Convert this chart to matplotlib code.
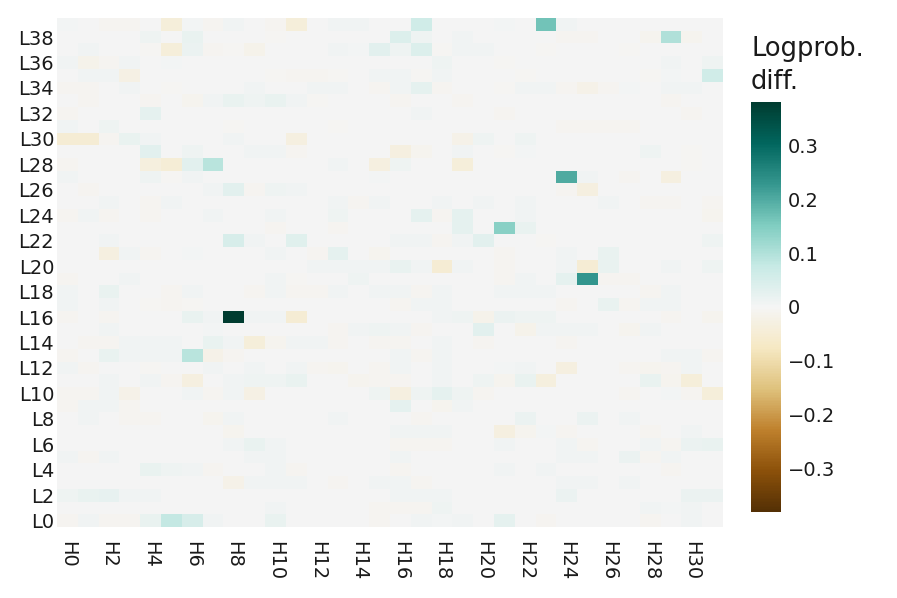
import matplotlib
matplotlib.use("Agg")
import matplotlib.pyplot as plt
import numpy as np

layers = [f"L{i}" for i in range(40)]
heads = [f"H{i}" for i in range(32)]
vmin, vmax = -0.38, 0.38
cbar_ticks = [-0.3, -0.2, -0.1, 0, 0.1, 0.2, 0.3]
cbar_title = "Logprob.\ndiff."

# rows L0 .. L39, columns H0 .. H31
values = [
    [-.008,.006,-.008,-.006,.02,.08,.05,.008,0,0,.02,0,0,0,0,-.006,0,.008,.004,.008,0,.025,0,-.006,0,0,0,0,-.006,0,.008,0],
    [0,0,0,0,0,0,0,0,0,0,.006,0,0,0,0,-.006,-.006,-.008,.01,0,0,0,0,0,0,0,0,0,.006,.004,.006,0],
    [.01,.02,.022,.008,.008,0,0,0,0,0,0,0,0,0,0,0,.008,.008,.008,0,0,0,0,0,.015,0,0,0,0,0,.015,.015],
    [0,0,0,0,0,0,0,0,-.02,.006,.006,.006,0,-.006,0,.006,.008,-.006,0,0,0,0,0,0,.008,.008,0,.008,0,0,0,0],
    [0,0,0,0,.02,.01,.008,-.006,0,0,.006,-.006,0,0,0,0,-.006,0,0,0,0,.008,0,.008,0,0,0,0,0,-.006,0,0],
    [.006,-.006,.006,0,0,0,0,0,0,.006,.006,0,0,0,0,0,.006,0,0,0,0,0,0,0,.008,.008,0,.015,-.006,.008,0,0],
    [0,0,0,0,0,0,0,0,.008,.02,.008,0,0,0,0,0,-.006,-.006,-.006,0,0,.008,0,0,.008,-.006,0,0,.008,-.006,.015,.02],
    [0,0,0,0,0,0,0,0,-.01,0,0,0,0,0,0,0,.006,.006,.008,0,0,-.03,-.01,.004,-.006,0,0,0,-.008,0,.006,0],
    [0,.006,0,-.008,-.006,0,0,-.01,.006,0,0,0,0,.006,0,0,0,-.006,0,0,0,0,.015,0,0,.015,0,.008,0,0,0,0],
    [-.008,.006,.006,-.006,0,0,0,0,0,0,0,0,0,0,0,0,.025,0,-.01,.006,0,0,0,0,0,0,0,0,0,0,0,0],
    [-.008,-.006,.008,-.02,0,0,.008,-.008,.008,-.025,0,0,0,0,0,.01,-.03,.01,.025,.01,-.006,0,0,0,0,0,0,-.006,0,.004,-.006,-.04],
    [0,0,.008,0,.008,-.006,-.03,0,.008,.01,.01,.02,0,0,-.01,-.008,-.006,0,.008,0,.01,-.01,.02,-.035,0,0,0,0,.02,-.01,-.04,0],
    [.006,-.008,0,0,-.005,0,0,.006,0,.008,0,.008,-.008,-.01,0,-.008,.008,0,.008,0,0,.004,.006,0,-.03,0,0,-.006,-.01,-.006,.008,0],
    [-.006,0,.02,.008,.008,.008,.09,-.02,-.006,0,0,0,0,0,0,0,.006,-.006,.006,0,0,0,0,0,0,0,0,0,0,.008,.008,-.008],
    [0,-.008,-.008,.008,.008,.008,0,.02,.008,-.04,-.01,.006,.006,-.008,0,-.008,-.006,0,.008,0,-.006,0,0,0,-.006,0,0,0,0,0,0,0],
    [0,0,.006,0,0,0,0,.005,0,0,0,0,0,-.006,.008,.01,.006,-.006,0,0,.03,0,-.015,.008,.008,.008,0,-.01,.008,0,0,0],
    [-.006,0,-.006,0,0,0,.02,.008,.38,.008,.006,-.05,0,0,0,0,0,0,.006,.01,-.015,.015,.01,.01,0,0,0,0,0,-.008,0,-.01],
    [.006,0,.006,0,-.005,-.008,-.005,0,0,0,0,0,0,0,0,0,-.006,.006,.006,0,0,0,0,0,-.006,0,.02,-.006,.008,.008,0,0],
    [.006,0,.02,0,0,-.006,.006,0,0,-.006,.008,-.006,-.008,.006,0,.008,.008,-.006,.006,0,0,.006,.008,.008,0,0,0,0,-.008,.008,0,0],
    [-.006,0,0,.008,0,0,0,0,0,0,.008,-.005,0,0,.01,0,0,0,0,0,0,-.008,.006,0,.025,.23,-.006,-.006,0,0,0,0],
    [0,0,0,0,0,0,0,0,0,0,0,0,.008,.008,.008,.006,.02,.008,-.05,.008,0,-.008,0,0,.006,-.05,.02,0,0,.008,0,.01],
    [0,0,-.03,.008,-.006,0,.004,0,0,0,.008,0,-.008,.025,0,-.01,0,0,0,0,0,-.008,0,0,.008,0,.02,0,0,0,0,0],
    [0,0,.008,0,0,0,0,0,.05,.006,0,.035,0,0,0,0,.008,.008,-.006,.008,.03,0,0,-.005,0,0,0,0,0,0,0,.01],
    [0,0,0,0,0,0,0,0,0,0,-.008,0,0,-.008,0,0,0,0,0,.025,0,.14,.02,0,0,0,0,0,0,0,0,0],
    [-.006,.008,-.006,0,-.006,0,0,.006,0,0,.008,0,0,.01,0,0,0,.025,-.008,.025,0,0,.006,0,0,0,0,0,0,0,0,-.01],
    [0,0,.008,0,-.006,.006,0,0,0,0,0,0,0,.008,-.006,.008,0,0,.006,0,.006,0,.006,0,0,0,.006,0,-.008,-.008,0,-.008],
    [0,-.006,0,0,0,0,0,.008,.03,-.008,.01,.008,0,0,0,0,0,0,0,0,0,0,0,0,-.008,-.03,0,0,0,0,0,0],
    [.006,0,0,0,.01,-.005,.008,0,0,0,0,0,0,0,0,.004,0,0,0,0,0,0,0,0,.2,.008,0,-.008,0,-.03,0,0],
    [-.006,0,0,0,-.035,-.045,.03,.09,0,0,0,0,0,.008,0,-.03,.01,0,0,-.04,0,0,0,0,0,0,0,0,0,0,-.005,0],
    [0,0,0,0,.03,0,.01,0,0,.008,.008,-.008,0,0,0,0,-.03,-.01,0,.008,0,-.004,.004,0,0,0,0,0,.01,0,-.004,0],
    [-.05,-.05,-.008,.02,.008,0,0,0,.006,0,0,-.03,0,0,0,0,0,0,0,-.02,.01,0,.01,0,0,0,0,0,0,0,0,0],
    [.006,0,.01,0,0,0,0,0,-.005,0,0,0,0,-.004,0,0,0,0,0,0,0,0,0,0,-.008,-.006,-.006,-.008,0,0,0,0],
    [-.008,0,0,0,.025,0,0,0,0,0,0,0,0,0,0,0,0,.006,0,0,0,-.008,0,0,0,0,0,0,0,0,-.006,0],
    [0,-.006,0,0,-.006,0,-.01,.006,.02,.01,.02,.008,-.005,0,0,0,-.006,0,0,-.006,0,0,0,0,0,0,0,0,0,-.008,0,0],
    [-.006,-.006,0,.008,0,-.004,0,0,0,.008,0,0,.008,.008,0,-.008,.008,.025,-.006,0,0,-.005,.006,.008,-.008,-.02,-.008,.004,0,.008,.006,0],
    [0,.008,.006,-.025,0,0,0,0,0,0,-.005,-.006,-.006,-.005,0,.006,.006,-.005,.008,0,0,0,-.005,0,0,0,0,0,-.005,.004,0,.06],
    [.006,-.015,-.008,.008,0,.004,0,0,0,0,0,0,0,0,0,0,0,0,.01,0,0,-.005,0,0,0,0,0,0,0,.008,0,.01],
    [0,.006,0,0,-.005,-.04,.015,-.008,-.005,-.015,0,0,0,.006,.004,.03,.01,.04,-.005,.008,.006,0,0,-.005,0,0,0,-.005,0,0,0,0],
    [0,0,0,0,.01,0,.02,0,0,0,-.005,0,0,0,0,0,.04,.01,0,.008,0,0,0,0,-.008,-.006,0,0,-.01,.1,-.01,0],
    [.005,0,-.006,-.006,0,-.04,.004,-.008,.006,0,-.006,-.04,0,.008,.006,0,0,.06,0,0,0,.005,0,.165,.008,0,0,0,0,0,0,0],
]

plt.rcParams['font.family'] = ['DejaVu Sans']
txt = '#1a1a1a'

fig = plt.figure(figsize=(8.97, 5.98), dpi=100)
ax = fig.add_axes([57/897, 1-527/598, 666/897, 509/598])
data = np.array(values)
im = ax.imshow(data, origin='lower', aspect='auto', cmap='BrBG',
               vmin=vmin, vmax=vmax, interpolation='nearest')
for s in ax.spines.values():
    s.set_visible(False)
ax.set_xticks(range(0, 32, 2))
ax.set_xticklabels(heads[::2], rotation=-90, fontsize=14, color=txt)
ax.set_yticks(range(0, 40, 2))
ax.set_yticklabels(layers[::2], fontsize=14, color=txt)
ax.tick_params(axis='x', length=0, pad=10)
ax.tick_params(axis='y', length=0, pad=2)
for lab in ax.get_xticklabels():
    lab.set_va('top')
    lab.set_ha('center')

cax = fig.add_axes([751/897, 1-512/598, 30/897, 410/598])
cb = fig.colorbar(im, cax=cax, ticks=cbar_ticks)
cb.outline.set_visible(False)
cb.ax.tick_params(length=0, pad=5, labelsize=14, labelcolor=txt)
cb.ax.set_yticklabels([("\u2212" if t < 0 else "") + (f"{abs(t):g}") for t in cbar_ticks])
fig.text(751/897, 1-36/598, cbar_title, fontsize=18.5, color=txt,
         ha='left', va='top', linespacing=1.35)

fig.savefig("out.png", dpi=100)
